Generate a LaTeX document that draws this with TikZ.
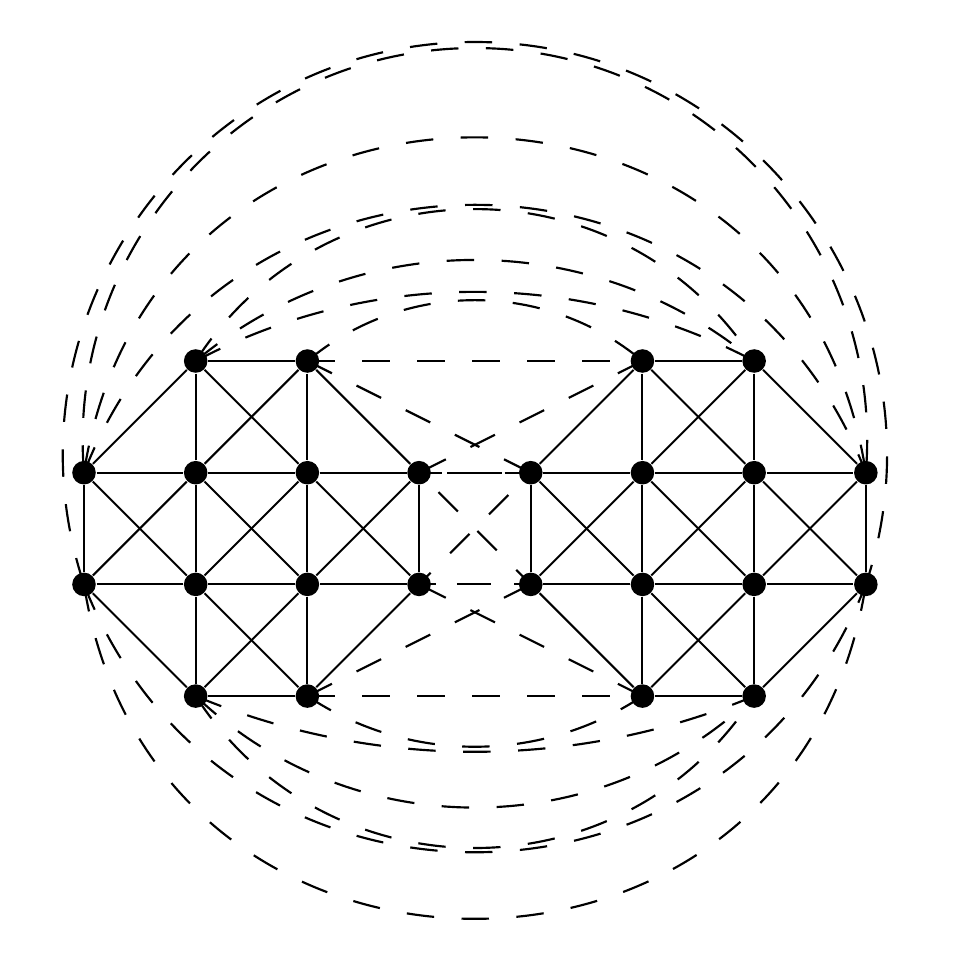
\documentclass[tikz,border=0pt]{standalone}
\usepackage{tikz}
\tikzset{
  vertex/.style={circle, fill=black, inner sep=0pt, minimum size=6pt},
  bond/.style={line width=0.5pt},
  wrap/.style={line width=0.55pt, dash pattern=on 7pt off 7pt},
}
\begin{document}
\begin{tikzpicture}
  \useasboundingbox (-0.752,-5.345) rectangle (7.807,3.232);
  % two octagonal patches, local columns 0..3
  \foreach \s/\o in {L/0,R/4} {
    \foreach \c/\r in {1/0,2/0,0/1,1/1,2/1,3/1,0/2,1/2,2/2,3/2,1/3,2/3}
      \node[vertex] (\s\c\r) at (\c+\o,-\r) {};
  }
  \foreach \s in {L,R} {
    \foreach \u/\v in {10/20,01/11,11/21,21/31,02/12,12/22,22/32,13/23,
                       10/11,11/12,12/13,20/21,21/22,22/23,01/02,31/32,
                       10/01,10/21,20/11,20/31,01/12,11/02,11/22,21/12,
                       21/32,31/22,02/13,12/23,22/13,32/23}
      \draw[bond] (\s\u) -- (\s\v);
  }
  % dashed links between the patches
  \foreach \u/\v in {L20/R10,L23/R13,L20/R01,R10/L31,L23/R02,R13/L32}
    \draw[wrap] (\u.center) -- (\v.center);
  \draw[wrap, dash phase=7pt] (L31.center) -- (R02.center);
  \draw[wrap, dash phase=2.8pt] (L32.center) -- (R01.center);
  \draw[wrap, dash pattern=on 5.9pt off 1.3pt on 13.8pt off 0.8pt on 7pt] (L31.center) -- (R01.center);
  \draw[wrap, dash pattern=on 4.3pt off 5.3pt on 8.7pt off 5.9pt on 5pt] (L32.center) -- (R02.center);
  % outer arcs over the top
  \coordinate (topg) at (3.5,2.856);
  \coordinate (topc) at (3.5,2.802);
  \draw[wrap] (L02.center) to[out=108.4,in=180,distance=2.51cm] (topg)
                           to[out=0,in=71.6,distance=2.51cm] (R32.center);
  \draw[wrap] (L01.center) to[out=94.7,in=180,distance=2.05cm] (topc)
                           to[out=0,in=85.3,distance=2.05cm] (R31.center);
  \foreach \u/\v/\a/\b/\d in {L01/R31/81.3/98.7/4.05, L01/R31/68.8/111.2/3.43,
                              L10/R20/57.1/122.9/2.16, L10/R20/39.8/140.2/1.885,
                              L10/R20/27.8/152.2/1.77, L20/R10/40/140/1.13}
    \draw[wrap] (\u.center) to[out=\a,in=\b,distance=\d cm] (\v.center);
  % arcs under the bottom
  \foreach \u/\v/\a/\b/\d in {L02/R32/-81.2/-98.8/4.04, L02/R32/-68.8/-111.2/3.43,
                              L13/R23/-57.1/-122.9/2.16, L13/R23/-43.6/-136.4/1.93,
                              L13/R23/-22.6/-157.4/1.73, L23/R13/-33.7/-146.3/1.09}
    \draw[wrap] (\u.center) to[out=\a,in=\b,distance=\d cm] (\v.center);
\end{tikzpicture}
\end{document}
